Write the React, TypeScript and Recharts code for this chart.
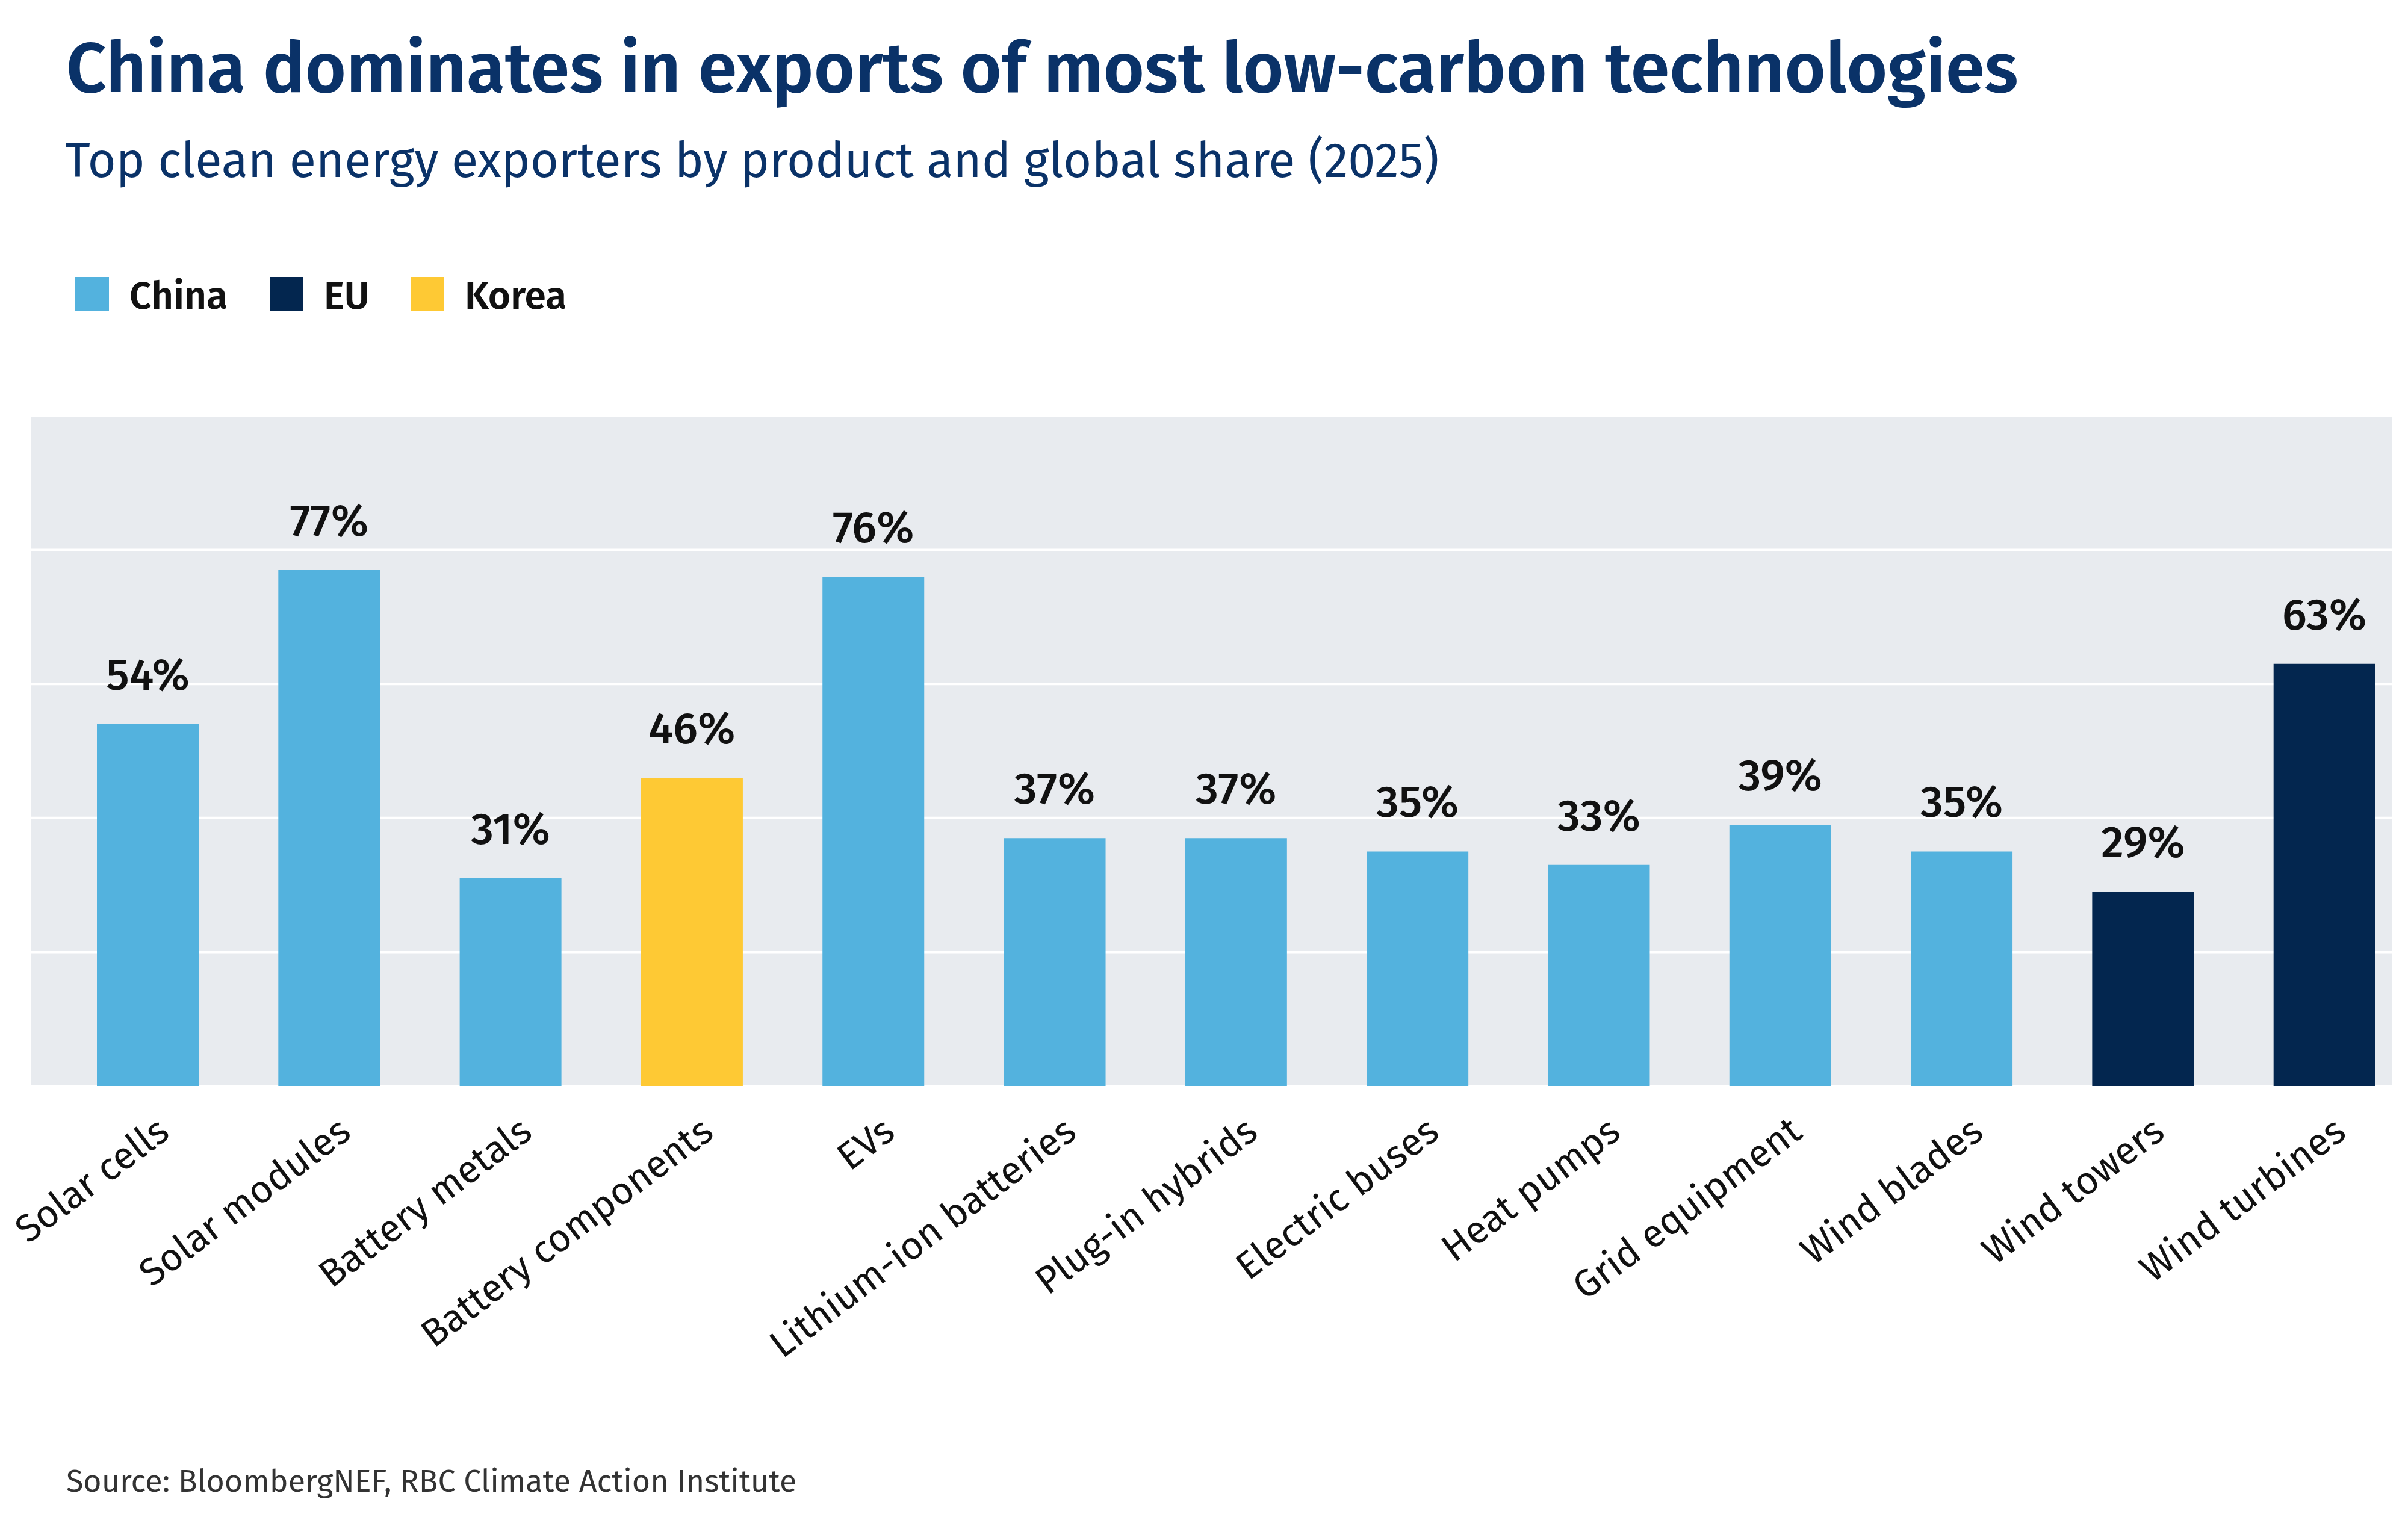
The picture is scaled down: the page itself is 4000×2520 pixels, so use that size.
import React from "react";
import {
  BarChart,
  Bar,
  Cell,
  XAxis,
  YAxis,
  CartesianGrid,
  LabelList,
} from "recharts";

const categories = [
  "Solar cells",
  "Solar modules",
  "Battery metals",
  "Battery components",
  "EVs",
  "Lithium-ion batteries",
  "Plug-in hybrids",
  "Electric buses",
  "Heat pumps",
  "Grid equipment",
  "Wind blades",
  "Wind towers",
  "Wind turbines",
];

// global export share of the top exporter, %
const shares = [54, 77, 31, 46, 76, 37, 37, 35, 33, 39, 35, 29, 63];

const leaders = [
  "China",
  "China",
  "China",
  "Korea",
  "China",
  "China",
  "China",
  "China",
  "China",
  "China",
  "China",
  "EU",
  "EU",
];

const exporters = ["China", "EU", "Korea"];
const exporterColors: Record<string, string> = {
  China: "#53b2de",
  EU: "#03264f",
  Korea: "#fec934",
};

const gridTicks = [20, 40, 60, 80];

const FONT = "'Fira Sans', 'Noto Sans', sans-serif";
const NAVY = "#0a3268";

const data = categories.map((name, i) => ({
  name,
  share: shares[i],
  leader: leaders[i],
}));

// legend x positions (square left edge) for each exporter
const legendX = [125, 448, 682];

function Tick(props: any) {
  const { x, y, payload } = props;
  return (
    <text
      x={x + 15}
      y={y}
      transform={`rotate(-37 ${x} ${y})`}
      textAnchor="end"
      dy="0.71em"
      fontFamily={FONT}
      fontSize={64}
      fill="#111"
    >
      {payload.value}
    </text>
  );
}

export default function App() {
  return (
    <div
      style={{
        position: "absolute",
        left: 0,
        top: 0,
        width: 4000,
        height: 2520,
        background: "#ffffff",
      }}
    >
      <svg
        width={4000}
        height={2520}
        style={{ position: "absolute", left: 0, top: 0 }}
      >
        <text
          x={110}
          y={153}
          fontFamily={FONT}
          fontSize={117}
          fontWeight={600}
          fill={NAVY}
        >
          China dominates in exports of most low-carbon technologies
        </text>
        <text x={108} y={294} fontFamily={FONT} fontSize={81} fill={NAVY}>
          Top clean energy exporters by product and global share (2025)
        </text>
        {exporters.map((e, i) => (
          <g key={e}>
            <rect
              x={legendX[i]}
              y={460}
              width={56}
              height={56}
              fill={exporterColors[e]}
            />
            <text
              x={legendX[i] + 90}
              y={513}
              fontFamily={FONT}
              fontSize={64}
              fontWeight={600}
              fill="#111"
            >
              {e}
            </text>
          </g>
        ))}
        <text x={110} y={2478} fontFamily={FONT} fontSize={52} fill="#333">
          Source: BloombergNEF, RBC Climate Action Institute
        </text>
      </svg>
      <div style={{ position: "absolute", left: 0, top: 0 }}>
        <BarChart
          width={4000}
          height={2520}
          data={data}
          margin={{ top: 691, right: 27, bottom: 416, left: 52 }}
        >
          <CartesianGrid
            vertical={false}
            stroke="#ffffff"
            strokeWidth={4}
            fill="#e8ebef"
          />
          <XAxis
            dataKey="name"
            axisLine={false}
            tickLine={false}
            tickSize={0}
            tickMargin={56}
            height={300}
            interval={0}
            padding={{ left: 43, right: -39 }}
            tick={<Tick />}
          />
          <YAxis hide domain={[0, 100]} ticks={gridTicks} />
          <Bar dataKey="share" barSize={169} isAnimationActive={false}>
            {data.map((d) => (
              <Cell key={d.name} fill={exporterColors[d.leader]} />
            ))}
            <LabelList
              dataKey="share"
              position="top"
              offset={57}
              formatter={(v: any) => `${v}%`}
              fill="#111"
              fontFamily={FONT}
              fontSize={74}
              fontWeight={500}
            />
          </Bar>
        </BarChart>
      </div>
    </div>
  );
}
